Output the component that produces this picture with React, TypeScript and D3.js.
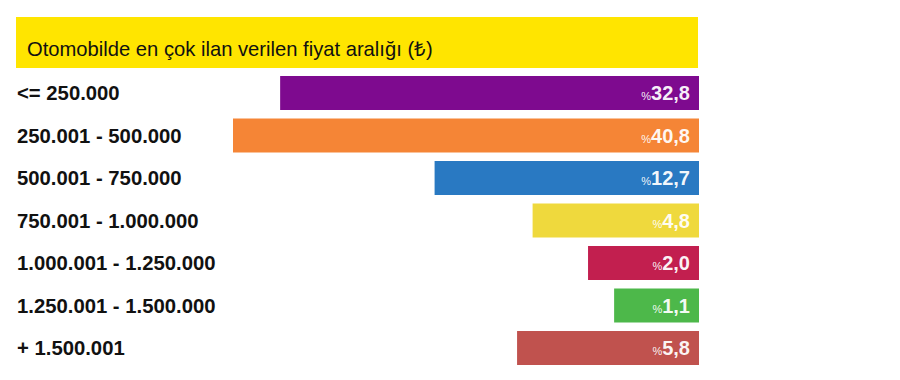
import React from "react";
import * as d3 from "d3";

const title = "Otomobilde en çok ilan verilen fiyat aralığı (₺)";
const categories = [
  "<= 250.000",
  "250.001 - 500.000",
  "500.001 - 750.000",
  "750.001 - 1.000.000",
  "1.000.001 - 1.250.000",
  "1.250.001 - 1.500.000",
  "+ 1.500.001",
];
const values = [32.8, 40.8, 12.7, 4.8, 2.0, 1.1, 5.8];
const valueLabels = ["32,8", "40,8", "12,7", "4,8", "2,0", "1,1", "5,8"];
const colors = ["#7e0a8f", "#f58536", "#2979c2", "#efd93d", "#c21f4f", "#4db84a", "#c0524e"];

const W = 900;
const H = 380;
const left = 16;
const right = 699;
const font = "'Liberation Sans', Arial, Helvetica, sans-serif";

export default function App() {
  const y = d3
    .scaleBand<string>()
    .domain(categories)
    .range([76, 76 + 42.5 * categories.length - 8.5])
    .paddingInner(8.5 / 42.5)
    .paddingOuter(0);
  const len = d3.scaleSqrt().domain([0, 40.8]).range([10, 466]);

  return (
    <svg
      width={W}
      height={H}
      style={{ position: "absolute", left: 0, top: 0, background: "#fff" }}
      fontFamily={font}
    >
      <rect x={left} y={17} width={right - left - 1} height={51} fill="#ffe500" />
      <text x={27} y={56} fontSize={20.2} fill="#111">
        {title}
      </text>
      {categories.map((c, i) => {
        const y0 = y(c)!;
        const bh = y.bandwidth();
        const w = len(values[i]);
        return (
          <g key={c}>
            <text x={17} y={y0 + bh / 2 + 7} fontSize={20.3} fontWeight="bold" fill="#111">
              {c}
            </text>
            <rect x={right - w} y={y0} width={w} height={bh} fill={colors[i]} />
            <text
              x={690}
              y={y0 + bh / 2 + 7}
              textAnchor="end"
              fill="#fff"
              fillOpacity={0.95}
            >
              <tspan fontSize={11} dy={0}>%</tspan>
              <tspan fontSize={20} fontWeight="bold">{valueLabels[i]}</tspan>
            </text>
          </g>
        );
      })}
    </svg>
  );
}
